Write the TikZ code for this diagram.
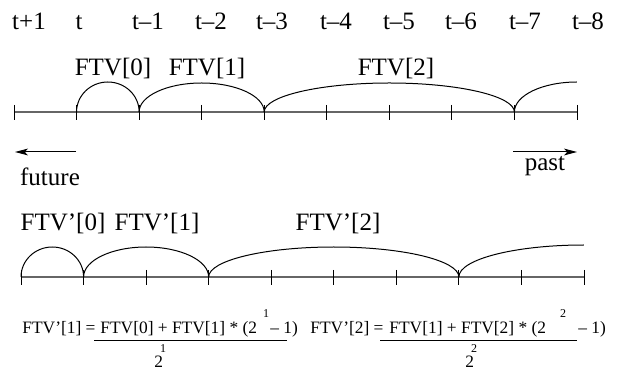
\documentclass[tikz,border=0pt]{standalone}
\usepackage{fontspec}
\setmainfont{Liberation Serif}
\usetikzlibrary{positioning,arrows.meta}

\tikzset{
    axis/.style={draw=gray!80!black, line width=0.8pt},
    tickmark/.style={draw=black, line width=0.45pt},
    span/.style={draw=black, line width=0.5pt},
    biglabel/.style={font=\fontsize{12.5}{14}\selectfont, inner sep=0pt, anchor=base},
    formula/.style={font=\fontsize{8.7}{10}\selectfont, inner sep=0pt, anchor=base west},
    smallsup/.style={font=\fontsize{6}{7}\selectfont, inner sep=0pt},
    dirarrow/.style={draw=black, line width=0.5pt, -{Stealth[length=6.5pt, width=3.4pt, inset=1.6pt]}}
}

\begin{document}
\begin{tikzpicture}[x=0.5pt, y=-0.5pt]
    \useasboundingbox (0,0) rectangle (620,373);

    % Time labels
    \foreach \lbl/\x [count=\i] in {t+1/29, t/79, t--1/148, t--2/211, t--3/272, t--4/336, t--5/399, t--6/461, t--7/525, t--8/588}
        \node[biglabel] (time\i) at (\x,30) {\lbl};

    % Top axis with ticks
    \foreach \i in {0,...,9}
        \coordinate (a\i) at ({14+62.55*\i},112);
    \draw[axis] (a0) -- (a9);
    \foreach \i in {0,...,9}
        \draw[tickmark] (a\i) ++(0,-7) -- ++(0,15);

    % FTV spans
    \draw[span] (a1) arc[start angle=180, end angle=360, x radius=31.3, y radius=30];
    \draw[span] (a2) arc[start angle=180, end angle=360, x radius=62.55, y radius=29];
    \draw[span] (a4) arc[start angle=180, end angle=360, x radius=125.1, y radius=29];
    \draw[span] (a8) arc[start angle=180, end angle=270, x radius=62.55, y radius=30];
    \node[biglabel] (ftv0) at (113,76) {FTV[0]};
    \node[biglabel] (ftv1) at (207,76) {FTV[1]};
    \node[biglabel] (ftv2) at (396,76) {FTV[2]};

    % Direction arrows
    \coordinate (futtail) at (76,152);
    \coordinate (futtip) at (15,152);
    \coordinate (pasttail) at (513,152);
    \coordinate (pasttip) at (577,152);
    \draw[dirarrow] (futtail) -- (futtip);
    \draw[dirarrow] (pasttail) -- (pasttip);
    \node[biglabel] (future) at (50,186) {future};
    \node[biglabel] (past) at (545,171) {past};

    % Bottom axis with ticks
    \foreach \i in {0,...,9}
        \coordinate (b\i) at ({21+62.55*\i},277);
    \draw[axis] (b0) -- (b9);
    \foreach \i in {0,...,9}
        \draw[tickmark] (b\i) ++(0,-7) -- ++(0,15);

    % FTV' spans
    \draw[span] (b0) arc[start angle=180, end angle=360, x radius=31.3, y radius=30];
    \draw[span] (b1) arc[start angle=180, end angle=360, x radius=62.55, y radius=30];
    \draw[span] (b3) arc[start angle=180, end angle=360, x radius=125.1, y radius=30];
    \draw[span] (b7) arc[start angle=180, end angle=270, x radius=125.1, y radius=32];
    \node[biglabel] (ftvp0) at (63,231) {FTV’[0]};
    \node[biglabel] (ftvp1) at (157,231) {FTV’[1]};
    \node[biglabel] (ftvp2) at (338,231) {FTV’[2]};

    % Formula for FTV'[1]
    \node[formula] (lhs1) at (22,333) {FTV’[1] =};
    \node[formula] (num1) at (100,333) {FTV[0] + FTV[1] * (2};
    \node[smallsup] (sup1) at (266,314) {1};
    \node[formula] (rest1) at (270,333) {-- 1)};
    \coordinate (bar1a) at (94,340);
    \coordinate (bar1b) at (287,340);
    \draw[span] (bar1a) -- (bar1b);
    \node[formula] (den1) at (154,367) {2};
    \node[smallsup] (dsup1) at (163,349) {1};

    % Formula for FTV'[2]
    \node[formula] (lhs2) at (310,333) {FTV’[2] =};
    \node[formula] (num2) at (389,333) {FTV[1] + FTV[2] * (2};
    \node[smallsup] (sup2) at (563,314) {2};
    \node[formula] (rest2) at (578,333) {-- 1)};
    \coordinate (bar2a) at (380,340);
    \coordinate (bar2b) at (577,340);
    \draw[span] (bar2a) -- (bar2b);
    \node[formula] (den2) at (465,367) {2};
    \node[smallsup] (dsup2) at (474,349) {2};
\end{tikzpicture}
\end{document}
